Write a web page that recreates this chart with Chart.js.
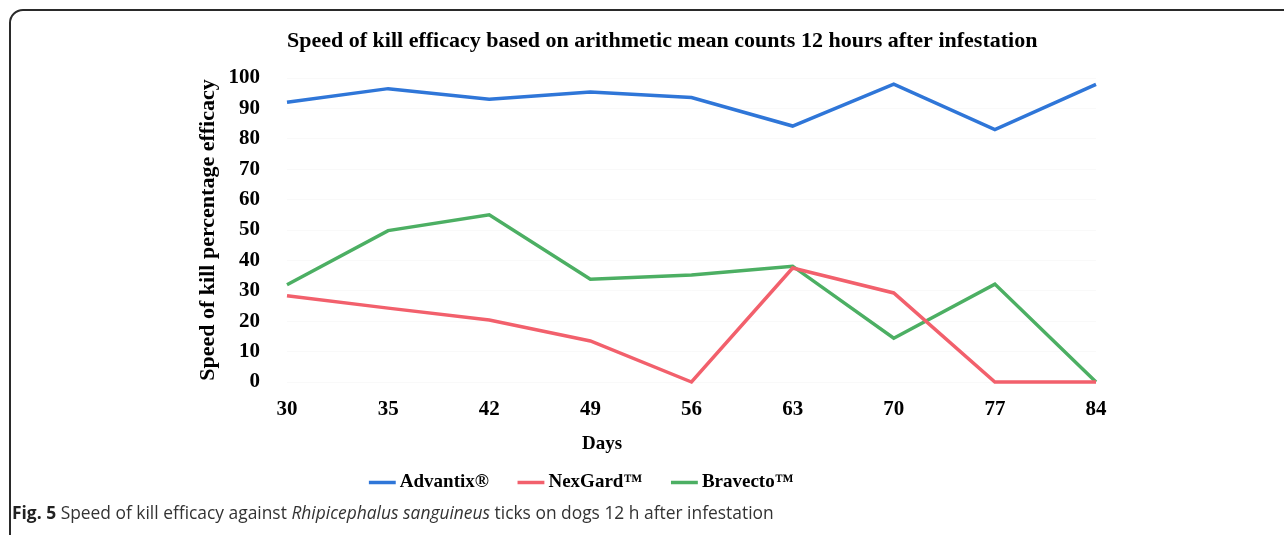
<!DOCTYPE html>
<html>
<head>
<meta charset="utf-8">
<script src="https://cdn.jsdelivr.net/npm/chart.js@4.4.0/dist/chart.umd.min.js"></script>
<style>
  html, body { margin: 0; padding: 0; background: #fff; width: 1284px; height: 535px; overflow: hidden; }
  #frame { position: absolute; left: 9px; top: 9px; width: 1300px; height: 540px; border: 2px solid #2a2a2a; border-radius: 14px; box-sizing: border-box; }
  #wrap { position: absolute; left: 0; top: 0; width: 1284px; height: 535px; }
  #xtitle { position: absolute; left: 552px; width: 100px; top: 432px; line-height: 22px; text-align: center; font-family: "Liberation Serif", "Times New Roman", serif; font-weight: bold; font-size: 19px; color: #000; }
  #caption { position: absolute; left: 12px; top: 500px; font-family: "Open Sans", sans-serif; font-size: 17.4px; color: #333; white-space: nowrap; }
  #caption b { color: #222; }
</style>
</head>
<body>
<div id="frame"></div>
<div id="wrap"><canvas id="c" width="1284" height="535"></canvas></div>
<div id="xtitle">Days</div>
<div id="caption"><b>Fig. 5</b> Speed of kill efficacy against <i>Rhipicephalus sanguineus</i> ticks on dogs 12 h after infestation</div>
<script>
const days = ['30', '35', '42', '49', '56', '63', '70', '77', '84'];
const advantix = [92, 96.5, 93, 95.4, 93.6, 84.2, 98, 83, 97.9];
const nexgard = [28.4, 24.3, 20.4, 13.5, 0, 37.5, 29.3, 0, 0];
const bravecto = [32, 49.8, 55, 33.8, 35.2, 38.1, 14.4, 32.2, 0];
const seriesNames = ['Advantix®', 'NexGard™', 'Bravecto™'];
const yTicks = [0, 10, 20, 30, 40, 50, 60, 70, 80, 90, 100];

const serif = '"Liberation Serif", "Times New Roman", serif';
const colors = ['#2f76d8', '#f2606c', '#4caf63'];

new Chart(document.getElementById('c'), {
  type: 'line',
  data: {
    labels: days,
    datasets: [advantix, nexgard, bravecto].map((d, i) => ({
      label: seriesNames[i],
      data: d,
      borderColor: colors[i],
      backgroundColor: colors[i],
      borderWidth: 3.5,
      pointRadius: 0,
      tension: 0,
      clip: false
    }))
  },
  options: {
    responsive: false,
    animation: false,
    layout: { padding: { left: 72, right: 188, top: 0, bottom: 33 } },
    plugins: {
      title: {
        display: true,
        fullSize: false,
        align: 'start',
        text: 'Speed of kill efficacy based on arithmetic mean counts 12 hours after infestation',
        color: '#000',
        font: { family: serif, size: 22, weight: 'bold' },
        padding: { top: 28, bottom: 23.6 }
      },
      legend: {
        position: 'bottom',
        labels: {
          usePointStyle: true,
          pointStyle: 'line',
          boxWidth: 16,
          boxHeight: 19,
          padding: 34,
          color: '#000',
          font: { family: serif, size: 19, weight: 'bold' }
        }
      },
      tooltip: { enabled: false }
    },
    scales: {
      x: {
        offset: false,
        afterFit: s => { s.height = 57; },
        grid: { display: false, drawTicks: false },
        border: { display: false },
        ticks: { color: '#000', padding: 15, font: { family: serif, size: 21, weight: 'bold' } }
      },
      y: {
        min: 0, max: 100,
        afterBuildTicks: s => { s.ticks = yTicks.map(v => ({ value: v })); },
        afterFit: s => { s.width = 287 - 72; },
        grid: { color: 'rgba(0,0,0,0.025)', drawTicks: false },
        border: { display: false },
        ticks: { color: '#000', padding: 27, font: { family: serif, size: 21, weight: 'bold' } },
        title: {
          display: true, text: 'Speed of kill percentage efficacy', color: '#000',
          font: { family: serif, size: 22, weight: 'bold' },
          padding: { top: 122.8, bottom: 0 }
        }
      }
    }
  }
});
</script>
</body>
</html>
